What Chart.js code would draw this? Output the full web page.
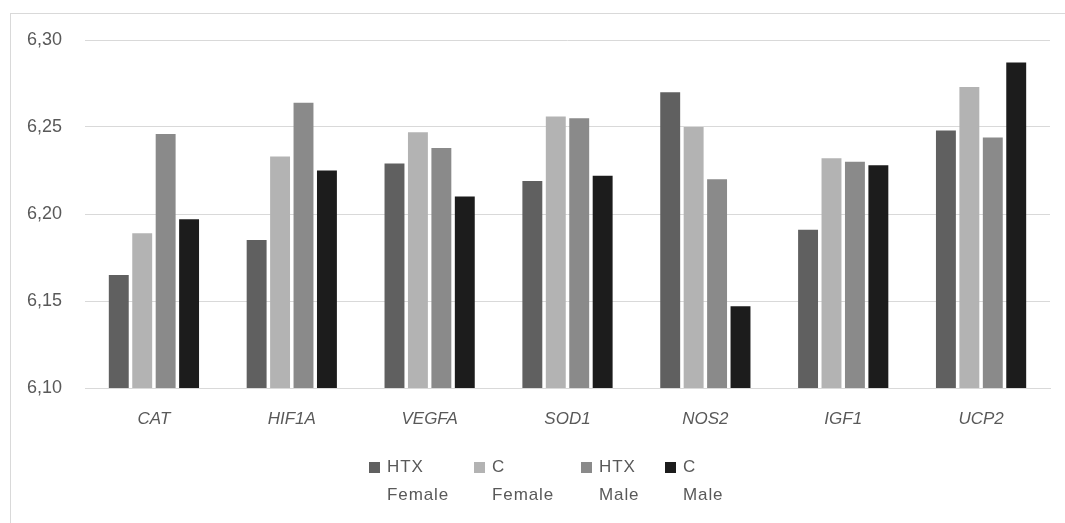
<!DOCTYPE html>
<html>
<head>
<meta charset="utf-8">
<script src="https://cdn.jsdelivr.net/npm/chart.js@4/dist/chart.umd.min.js"></script>
<style>
  html, body { margin: 0; padding: 0; background: #fff; }
  #wrap { position: relative; width: 1065px; height: 523px; overflow: hidden; }
  #frame { position: absolute; left: 10px; top: 13px; right: -5px; bottom: -5px; border-left: 1px solid #d9d9d9; border-top: 1px solid #d9d9d9; }
  canvas { position: absolute; left: 0; top: 0; }
  #legend { position: absolute; left: 369px; top: 457px; display: flex; font-family: "Liberation Sans", Arial, sans-serif; font-size: 17px; color: #595959; }
  .item { display: flex; align-items: flex-start; }
  .box { width: 11px; height: 11px; margin-top: 5px; margin-right: 7px; }
  .txt { line-height: 28px; margin-top: -4px; letter-spacing: 0.9px; }
</style>
</head>
<body>
<div id="wrap">
  <div id="frame"></div>
  <canvas id="chart" width="1065" height="523"></canvas>
  <div id="legend"></div>
</div>
<script>
// categories and series
const genes = ['CAT', 'HIF1A', 'VEGFA', 'SOD1', 'NOS2', 'IGF1', 'UCP2'];
const seriesNames = [['HTX', 'Female'], ['C', 'Female'], ['HTX', 'Male'], ['C', 'Male']];
const htxFemale = [6.165, 6.185, 6.229, 6.219, 6.270, 6.191, 6.248];
const cFemale   = [6.189, 6.233, 6.247, 6.256, 6.250, 6.232, 6.273];
const htxMale   = [6.246, 6.264, 6.238, 6.255, 6.220, 6.230, 6.244];
const cMale     = [6.197, 6.225, 6.210, 6.222, 6.147, 6.228, 6.287];
const seriesColors = ['#606060', '#b3b3b3', '#8a8a8a', '#1c1c1c'];
const yMin = 6.10, yMax = 6.30, yStep = 0.05;

const allValues = [htxFemale, cFemale, htxMale, cMale];
const legendWidths = [105, 107, 84, 70];

const datasets = allValues.map((vals, i) => ({
    label: seriesNames[i].join(' '),
    data: vals,
    backgroundColor: seriesColors[i],
    barPercentage: 0.85,
    categoryPercentage: 0.68
}));

const ctx = document.getElementById('chart').getContext('2d');
new Chart(ctx, {
    type: 'bar',
    data: { labels: genes, datasets: datasets },
    options: {
        responsive: false,
        animation: false,
        layout: { padding: { left: 0, right: 15, top: 40, bottom: 0 } },
        plugins: { legend: { display: false }, tooltip: { enabled: false } },
        scales: {
            x: {
                grid: { display: false, drawTicks: false },
                border: { color: '#d9d9d9' },
                ticks: {
                    padding: 21,
                    color: '#595959',
                    font: { family: '"Liberation Sans", Arial, sans-serif', size: 17, style: 'italic' }
                },
                afterFit: (scale) => { scale.height = 135; }
            },
            y: {
                min: yMin,
                max: yMax,
                grid: { color: '#d9d9d9', drawTicks: false },
                border: { display: false },
                ticks: {
                    stepSize: yStep,
                    padding: 23,
                    color: '#595959',
                    font: { family: '"Liberation Sans", Arial, sans-serif', size: 18 },
                    callback: (v) => v.toFixed(2).replace('.', ',')
                },
                afterFit: (scale) => { scale.width = 85; }
            }
        }
    }
});

// legend with two-line labels
const legend = document.getElementById('legend');
seriesNames.forEach((name, i) => {
    const item = document.createElement('div');
    item.className = 'item';
    item.style.width = legendWidths[i] + 'px';
    item.innerHTML = '<div class="box" style="background:' + seriesColors[i] + '"></div>' +
        '<div class="txt">' + name[0] + '<br>' + name[1] + '</div>';
    legend.appendChild(item);
});
</script>
</body>
</html>
